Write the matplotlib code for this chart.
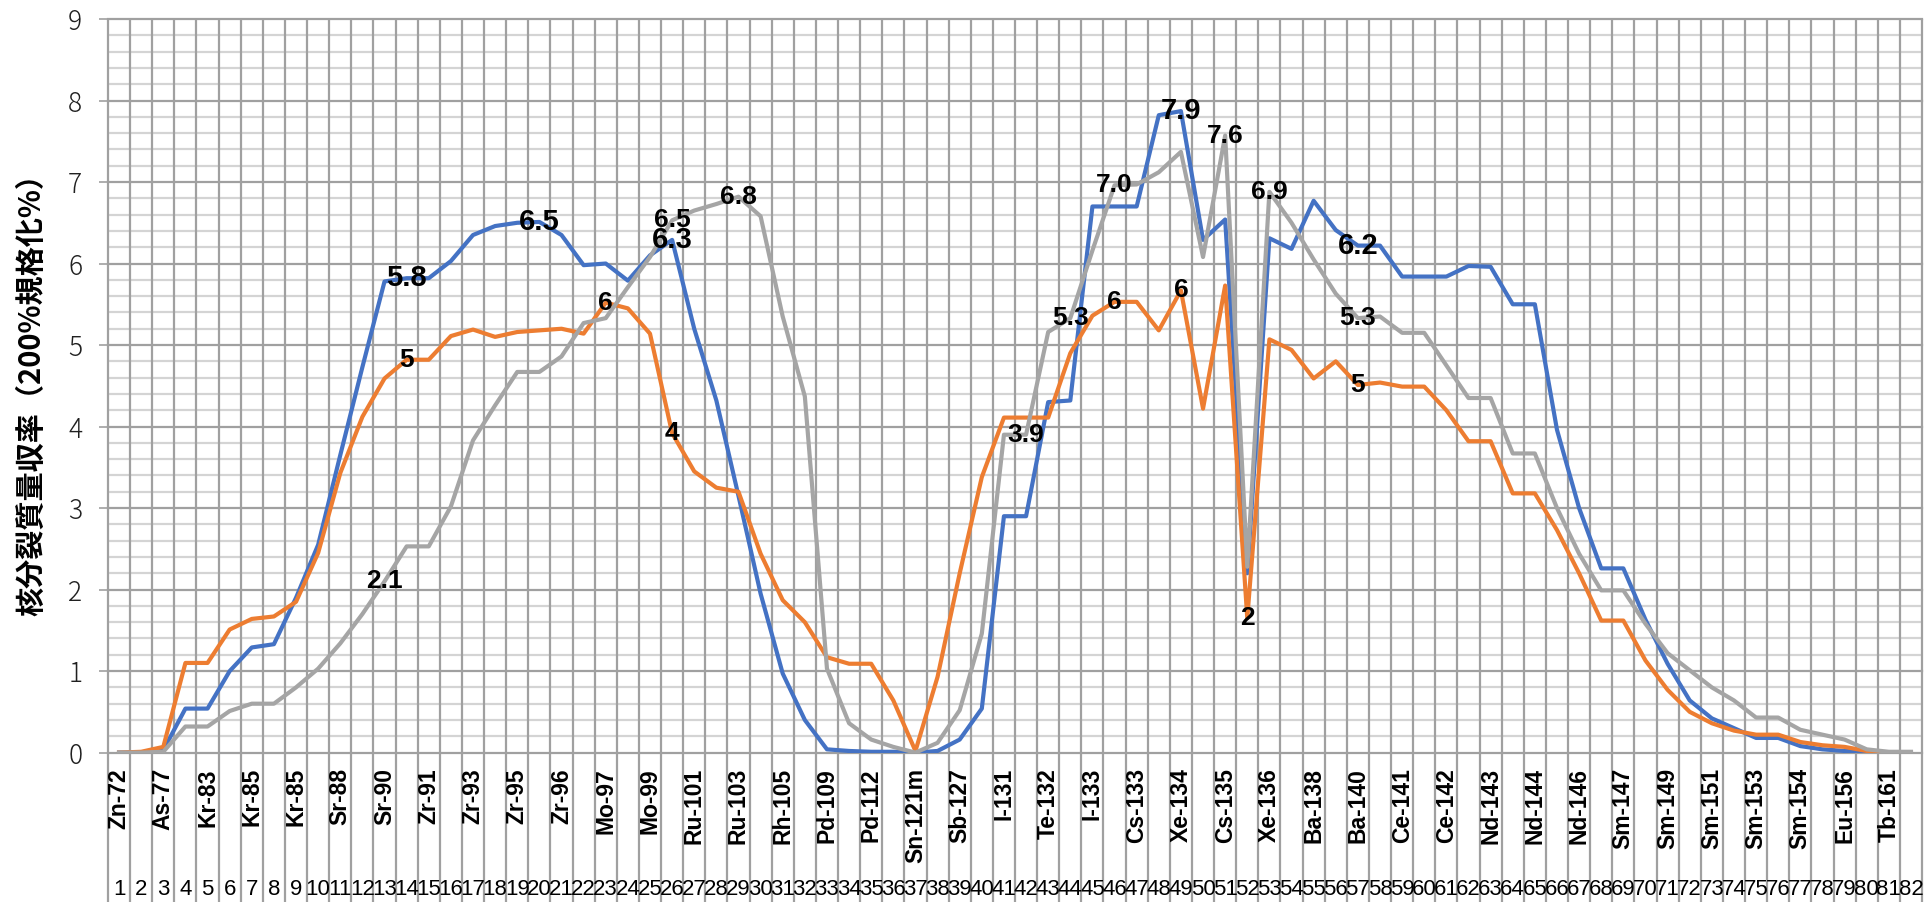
import numpy as np
import matplotlib.pyplot as plt

# nuclide names shown on every other category (1, 3, 5, ... 81)
nuclides = ["Zn-72", "As-77", "Kr-83", "Kr-85", "Kr-85", "Sr-88", "Sr-90", "Zr-91",
            "Zr-93", "Zr-95", "Zr-96", "Mo-97", "Mo-99", "Ru-101", "Ru-103", "Rh-105",
            "Pd-109", "Pd-112", "Sn-121m", "Sb-127", "I-131", "Te-132", "I-133", "Cs-133",
            "Xe-134", "Cs-135", "Xe-136", "Ba-138", "Ba-140", "Ce-141", "Ce-142", "Nd-143",
            "Nd-144", "Nd-146", "Sm-147", "Sm-149", "Sm-151", "Sm-153", "Sm-154", "Eu-156",
            "Tb-161"]
numbers = list(range(1, 83))

blue = [0.0, 0.0, 0.03, 0.54, 0.54, 1.0, 1.29, 1.33, 1.9, 2.55,
        3.65, 4.73, 5.78, 5.82, 5.82, 6.03, 6.35, 6.46, 6.5, 6.51,
        6.35, 5.98, 6.0, 5.79, 6.1, 6.29, 5.2, 4.32, 3.15, 1.95,
        0.97, 0.4, 0.04, 0.02, 0.01, 0.01, 0.0, 0.02, 0.16, 0.54,
        2.9, 2.9, 4.3, 4.32, 6.7, 6.7, 6.7, 7.82, 7.87, 6.29,
        6.54, 2.2, 6.31, 6.18, 6.77, 6.41, 6.22, 6.22, 5.84, 5.84,
        5.84, 5.97, 5.96, 5.5, 5.5, 3.96, 3.0, 2.26, 2.26, 1.63,
        1.09, 0.64, 0.42, 0.3, 0.18, 0.18, 0.08, 0.04, 0.02, 0.01,
        0.0, 0.0]
orange = [0.0, 0.01, 0.07, 1.1, 1.1, 1.51, 1.64, 1.67, 1.85, 2.45,
          3.43, 4.12, 4.59, 4.82, 4.82, 5.11, 5.19, 5.1, 5.16, 5.18,
          5.2, 5.14, 5.52, 5.45, 5.14, 3.92, 3.45, 3.25, 3.2, 2.44,
          1.87, 1.6, 1.17, 1.09, 1.09, 0.64, 0.02, 0.93, 2.2, 3.38,
          4.11, 4.11, 4.11, 4.9, 5.36, 5.53, 5.53, 5.18, 5.67, 4.22,
          5.73, 1.65, 5.07, 4.94, 4.59, 4.8, 4.51, 4.54, 4.49, 4.49,
          4.2, 3.82, 3.82, 3.18, 3.18, 2.73, 2.2, 1.62, 1.62, 1.13,
          0.77, 0.5, 0.36, 0.27, 0.22, 0.22, 0.13, 0.09, 0.07, 0.02,
          0.0, 0.0]
gray = [0.0, 0.0, 0.01, 0.32, 0.32, 0.51, 0.6, 0.6, 0.8, 1.03,
        1.34, 1.7, 2.1, 2.53, 2.53, 3.02, 3.83, 4.26, 4.67, 4.67,
        4.86, 5.27, 5.33, 5.71, 6.08, 6.53, 6.65, 6.73, 6.82, 6.58,
        5.35, 4.37, 1.03, 0.36, 0.16, 0.07, 0.0, 0.12, 0.52, 1.46,
        3.9, 3.9, 5.16, 5.33, 6.16, 6.96, 6.97, 7.12, 7.37, 6.08,
        7.57, 2.28, 6.88, 6.5, 6.05, 5.63, 5.33, 5.35, 5.15, 5.15,
        4.75, 4.35, 4.35, 3.67, 3.67, 3.0, 2.44, 1.99, 1.99, 1.58,
        1.22, 1.01, 0.8, 0.64, 0.43, 0.43, 0.28, 0.22, 0.16, 0.04,
        0.01, 0.01]

# categories that carry a data label
blue_lab = [14, 20, 26, 49, 57]
orange_lab = [14, 23, 26, 46, 49, 52, 57]
gray_lab = [13, 26, 29, 42, 44, 46, 51, 53, 57]

C_BLUE, C_ORANGE, C_GRAY = "#4472C4", "#ED7D31", "#A5A5A5"

fig = plt.figure(figsize=(19.28, 9.02), dpi=100)
ax = fig.add_axes([108 / 1928, 1 - 752.6 / 902, 1814 / 1928, 733.6 / 902])

x = np.array(numbers)
ax.set_xlim(0.5, 82.5)
ax.set_ylim(0, 9)

# grid: minor horizontals, major horizontals, category dividers (run through label area)
for v in np.arange(0.2, 9, 0.2):
    if abs(v - round(v)) > 1e-6:
        ax.axhline(v, color="#d4d4d4", lw=1.6, zorder=0)
for v in range(0, 10):
    ax.axhline(v, color="#a0a0a0", lw=1.6, zorder=0.5, clip_on=False)
ax.vlines(np.arange(0.5, 83, 1.0), -0.205, 1, transform=ax.get_xaxis_transform(),
          color="#a0a0a0", lw=1.6, zorder=0.5, clip_on=False)

ax.plot(x, blue, color=C_BLUE, lw=3.0, zorder=2)
ax.plot(x, orange, color=C_ORANGE, lw=3.0, zorder=3)
ax.plot(x, gray, color=C_GRAY, lw=3.0, zorder=4)

for i in blue_lab:
    ax.text(i, blue[i - 1], f"{blue[i - 1]:.1f}", ha="center", va="center",
            fontsize=21, fontweight="bold", family="Liberation Sans", zorder=6)
for i in orange_lab:
    ax.text(i, orange[i - 1], f"{orange[i - 1]:.0f}", ha="center", va="center",
            fontsize=19, fontweight="bold", family="Liberation Sans", zorder=6)
for i in gray_lab:
    ax.text(i, gray[i - 1], f"{gray[i - 1]:.1f}", ha="center", va="center",
            fontsize=19, fontweight="bold", family="Liberation Sans", zorder=6)

for s in ax.spines.values():
    s.set_visible(False)

ax.set_yticks(range(0, 10))
ax.set_yticklabels([str(v) for v in range(0, 10)], family=["Noto Sans CJK JP", "DejaVu Sans"],
                   fontweight="light", fontsize=19, color="#202020")
ax.tick_params(axis="y", length=6.5, width=1.2, color="#a0a0a0", pad=12)
ax.set_xticks([])

# two-level category axis
for k, name in enumerate(nuclides):
    ax.text(2 * k + 1, -0.021, name, transform=ax.get_xaxis_transform(), rotation=90,
            ha="center", va="top", fontsize=16.5, fontweight="bold",
            family="Liberation Sans")
for n in numbers:
    ax.text(n, -0.187, str(n), transform=ax.get_xaxis_transform(), ha="center",
            va="center", fontsize=16, family=["Liberation Sans Narrow", "Liberation Sans"])

fig.text(31 / 1928, 1 - 388 / 902, "核分裂質量収率（200%規格化%）", rotation=90,
         ha="center", va="center", fontsize=21, fontweight="bold",
         family=["Noto Sans CJK JP", "DejaVu Sans"])

fig.savefig("out.png", dpi=100)
